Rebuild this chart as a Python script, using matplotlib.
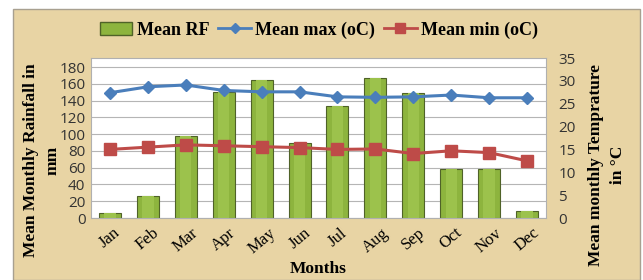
import matplotlib
matplotlib.use("Agg")
import matplotlib.pyplot as plt
from matplotlib.patches import Rectangle
from matplotlib.lines import Line2D

months = ["Jan", "Feb", "Mar", "Apr", "May", "Jun",
          "Jul", "Aug", "Sep", "Oct", "Nov", "Dec"]
rainfall = [6, 26, 98, 150, 165, 90, 134, 167, 149, 59, 58, 8]
t_max = [27.4, 28.7, 29.1, 27.9, 27.6, 27.6, 26.5, 26.4, 26.5, 26.9, 26.3, 26.3]
t_min = [15.0, 15.5, 16.0, 15.8, 15.6, 15.4, 15.0, 15.1, 14.1, 14.7, 14.3, 12.5]

SERIF = ["Liberation Serif", "DejaVu Serif"]
SANS = ["Open Sans", "DejaVu Sans"]
PAPER = "#E8D4A4"
GREEN = "#8DB43E"
GREEN_EDGE = "#4F6228"
BLUE = "#4A7EBB"
RED = "#BE4B48"

fig = plt.figure(figsize=(6.43, 2.80), dpi=100, facecolor="white")

# parchment panel behind everything
fig.patches.append(Rectangle((13 / 643, 0), 627 / 643, 271 / 280,
                             transform=fig.transFigure, facecolor=PAPER,
                             edgecolor="#A8A090", lw=1.0, zorder=-5))

ax = fig.add_axes([91 / 643, 62 / 280, 455 / 643, 160 / 280])
ax.set_facecolor("white")
x = list(range(len(months)))

ax.bar(x, rainfall, width=0.58, color=GREEN, edgecolor=GREEN_EDGE,
       linewidth=0.8, zorder=2)
# lighter middle stripe to hint at the bevelled look
ax.bar(x, rainfall, width=0.3, color="#9CC24C", linewidth=0, zorder=2.1)

ax.set_xlim(-0.5, 11.5)
ax.set_ylim(0, 191)
ax.set_yticks(range(0, 181, 20))
ax.yaxis.grid(True, color="#B5B5B5", lw=0.8, zorder=0)
ax.set_axisbelow(True)
ax.tick_params(axis="y", length=0, labelsize=11, pad=4, labelcolor="#333333")
ax.tick_params(axis="x", length=0, pad=5)
for lab in ax.get_yticklabels():
    lab.set_family(SANS)
ax.set_xticks(x)
ax.set_xticklabels(months, rotation=40, ha="center", family=SERIF, fontsize=12)
for s in ax.spines.values():
    s.set_color("#B0B0B0")
    s.set_linewidth(0.8)

ax2 = ax.twinx()
ax2.set_ylim(0, 35)
ax2.set_yticks(range(0, 36, 5))
ax2.tick_params(axis="y", length=0, labelsize=11, pad=9, labelcolor="#333333")
for lab in ax2.get_yticklabels():
    lab.set_family(SANS)
for s in ax2.spines.values():
    s.set_visible(False)

ax2.plot(x, t_max, color=BLUE, lw=2.2, marker="D", markersize=6,
         markerfacecolor=BLUE, markeredgecolor=BLUE, zorder=3)
ax2.plot(x, t_min, color=RED, lw=2.2, marker="s", markersize=8,
         markerfacecolor=RED, markeredgecolor=RED, zorder=3)

ax.set_xlabel("Months", family=SERIF, fontsize=12.5, fontweight="bold", labelpad=3)
ax.set_ylabel("Mean Monthly Rainfall in\nmm", family=SERIF, fontsize=12.5,
              fontweight="bold", linespacing=1.45)
ax2.set_ylabel("Mean monthly Temprature\nin \u00b0C", family=SERIF, fontsize=12.5,
               fontweight="bold", linespacing=1.45)
ax.yaxis.set_label_coords(-0.068, 0.36)
ax2.yaxis.set_label_coords(1.093, 0.33)

handles = [
    Rectangle((0, 0), 1, 1, facecolor=GREEN, edgecolor=GREEN_EDGE),
    Line2D([], [], color=BLUE, lw=2, marker="D", markersize=5),
    Line2D([], [], color=RED, lw=2, marker="s", markersize=7),
]
fig.legend(handles, ["Mean RF", "Mean max (oC)", "Mean min (oC)"],
           loc="center", bbox_to_anchor=(319 / 643, 1 - 30 / 280), ncol=3,
           frameon=False, prop={"family": SERIF, "weight": "bold", "size": 13},
           handlelength=1.8, handletextpad=0.25, columnspacing=0.5)

fig.savefig("out.png", dpi=100, facecolor="white")
